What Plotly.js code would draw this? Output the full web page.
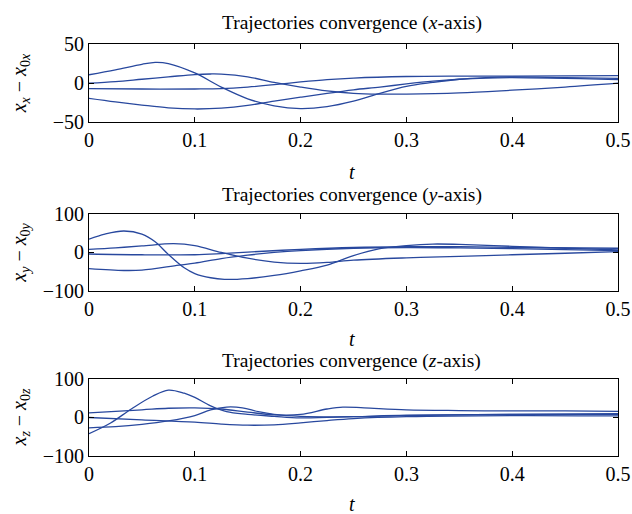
<!DOCTYPE html>
<html><head><meta charset="utf-8">
<script src="https://cdn.plot.ly/plotly-3.0.1.min.js"></script>
<style>html,body{margin:0;padding:0;background:#fff}#chart{width:632px;height:514px}</style>
</head><body><div id="chart"></div>
<script>
// Panel 1 (x-axis)
const tA = [0,0.025,0.05,0.0625,0.075,0.1,0.125,0.15,0.175,0.2,0.225,0.25,0.275,0.3,0.325,0.35,0.375,0.4,0.45,0.5];
const xA = [10.7,17,24,26.5,25,13,-5,-20,-29,-32.5,-30,-23,-13,-4,1,5,7,8,7,6];
const tB = [0,0.025,0.05,0.075,0.1,0.115,0.125,0.15,0.175,0.2,0.225,0.25,0.275,0.3,0.35,0.4,0.45,0.5];
const xB = [0,2,5,8,11,11.7,11.5,8,1,-5,-10,-13,-14,-14,-12.5,-9,-5,0];
const tC = [0,0.05,0.1,0.125,0.15,0.175,0.2,0.225,0.25,0.3,0.35,0.4,0.5];
const xC = [-7,-7.5,-7.5,-7,-5,-2,1.5,4.5,6.5,8.5,9,9,9.5];
const tD = [0,0.025,0.05,0.075,0.1,0.125,0.15,0.175,0.2,0.225,0.25,0.275,0.3,0.325,0.35,0.375,0.4,0.5];
const xD = [-19.5,-24,-28,-31.5,-33,-32,-28.5,-23,-18,-13,-8.5,-5,-1,2.5,5,6.5,7,4.5];
// Panel 2 (y-axis)
const tE = [0,0.015,0.033,0.05,0.0625,0.075,0.09,0.1,0.115,0.128,0.15,0.175,0.2,0.225,0.25,0.275,0.3,0.325,0.35,0.4,0.45,0.5];
const yE = [35,48,56,48,28,-5,-40,-55,-66,-70,-68,-60,-48,-33,-8,10,18,22,21,16,11,7];
const tF = [0,0.025,0.05,0.08,0.1,0.125,0.15,0.175,0.2,0.225,0.25,0.3,0.35,0.4,0.45,0.5];
const yF = [8,12,17,23,18,0,-15,-25,-28.5,-26,-20,-14,-10,-6,-2,2];
const tG = [0,0.05,0.1,0.125,0.15,0.2,0.25,0.3,0.35,0.4,0.5];
const yG = [-4,-6,-6,-3,1,8,13,15,15,13,11];
const tH = [0,0.033,0.05,0.085,0.1,0.125,0.15,0.175,0.2,0.25,0.3,0.35,0.4,0.5];
const yH = [-42,-47,-46,-33,-28,-16,-7,0,5,11,13,12,10,5];
// Panel 3 (z-axis)
const tI = [0,0.02,0.04,0.06,0.075,0.09,0.1,0.115,0.13,0.15,0.175,0.2,0.25,0.3,0.4,0.5];
const zI = [-42,-15,22,55,71,63,52,30,15,8,3,-1,2,6,8,10];
const tJ = [0,0.05,0.075,0.1,0.125,0.15,0.175,0.2,0.225,0.24,0.26,0.3,0.35,0.4,0.45,0.5];
const zJ = [12,20,24,25,22,14,7,8,22,27,25,20,18,17,17,16];
const tK = [0,0.05,0.1,0.125,0.15,0.175,0.2,0.225,0.25,0.3,0.4,0.5];
const zK = [0,-6,-12,-17,-20,-19,-14,-8,-3,2,5,4];
const tL = [0,0.025,0.05,0.075,0.1,0.115,0.13,0.145,0.16,0.175,0.2,0.25,0.3,0.4,0.5];
const zL = [-27,-24,-18,-9,5,20,27,25,15,8,3,2,5,8,8];

const col = 'rgb(40,72,158)';
function tr(x,y,ax){return {x:x,y:y,xaxis:'x'+ax,yaxis:'y'+ax,type:'scatter',mode:'lines',
  line:{color:col,width:1.3,shape:'spline',smoothing:1},hoverinfo:'skip',showlegend:false};}
const data = [
  tr(tA,xA,''),tr(tB,xB,''),tr(tC,xC,''),tr(tD,xD,''),
  tr(tE,yE,'2'),tr(tF,yF,'2'),tr(tG,yG,'2'),tr(tH,yH,'2'),
  tr(tI,zI,'3'),tr(tJ,zJ,'3'),tr(tK,zK,'3'),tr(tL,zL,'3')
];

const serif = 'Liberation Serif, Times New Roman, serif';
const tf = {family:serif,size:20,color:'#000'};
function xax(anchor){return {domain:[0,1],range:[0,0.5],anchor:anchor,tickvals:[0,0.1,0.2,0.3,0.4,0.5],
  ticktext:['0','0.1','0.2','0.3','0.4','0.5'],ticks:'inside',ticklen:5,tickcolor:'#000',
  showline:true,mirror:'ticks',linecolor:'#000',linewidth:1,showgrid:false,zeroline:false,tickfont:tf};}
function yax(anchor,dom,r,vals){return {domain:dom,range:r,anchor:anchor,tickvals:vals,
  ticks:'inside',ticklen:5,tickcolor:'#000',showline:true,mirror:'ticks',linecolor:'#000',linewidth:1,
  showgrid:false,zeroline:false,tickfont:tf};}
const titles = ['Trajectories convergence (<i>x</i>-axis)','Trajectories convergence (<i>y</i>-axis)','Trajectories convergence (<i>z</i>-axis)'];
const ytitles = ['<i>x</i><sub><i>x</i></sub> − <i>x</i><sub>0<i>x</i></sub>','<i>x</i><sub><i>y</i></sub> − <i>x</i><sub>0<i>y</i></sub>','<i>x</i><sub><i>z</i></sub> − <i>x</i><sub>0<i>z</i></sub>'];
const titleY = [1.051,0.633,0.231];
const tY = [0.689,0.284,-0.117];
const ytY = [0.905,0.494,0.094];
const ann = [];
for(let i=0;i<3;i++){
  ann.push({text:titles[i],xref:'paper',yref:'paper',x:0.497,y:titleY[i],showarrow:false,font:{family:serif,size:19.5,color:'#000'},xanchor:'center',yanchor:'middle'});
  ann.push({text:'<i>t</i>',xref:'paper',yref:'paper',x:0.497,y:tY[i],showarrow:false,font:{family:serif,size:20,color:'#000'},xanchor:'center',yanchor:'middle'});
  ann.push({text:ytitles[i],xref:'paper',yref:'paper',x:-0.13,y:ytY[i],showarrow:false,textangle:-90,font:{family:serif,size:20,color:'#000'},xanchor:'center',yanchor:'middle'});
}
const layout = {
  width:632,height:514,margin:{l:89,r:14,t:44,b:58},paper_bgcolor:'#fff',plot_bgcolor:'#fff',
  xaxis:xax('y'),yaxis:yax('x',[0.81,1],[-50,50],[-50,0,50]),
  xaxis2:xax('y2'),yaxis2:yax('x2',[0.401,0.587],[-100,100],[-100,0,100]),
  xaxis3:xax('y3'),yaxis3:yax('x3',[0,0.187],[-100,100],[-100,0,100]),
  annotations:ann
};
layout.yaxis.ticktext=['−50','0','50'];
layout.yaxis2.ticktext=['−100','0','100'];
layout.yaxis3.ticktext=['−100','0','100'];
Plotly.newPlot('chart',data,layout,{staticPlot:true,displayModeBar:false});
</script></body></html>
